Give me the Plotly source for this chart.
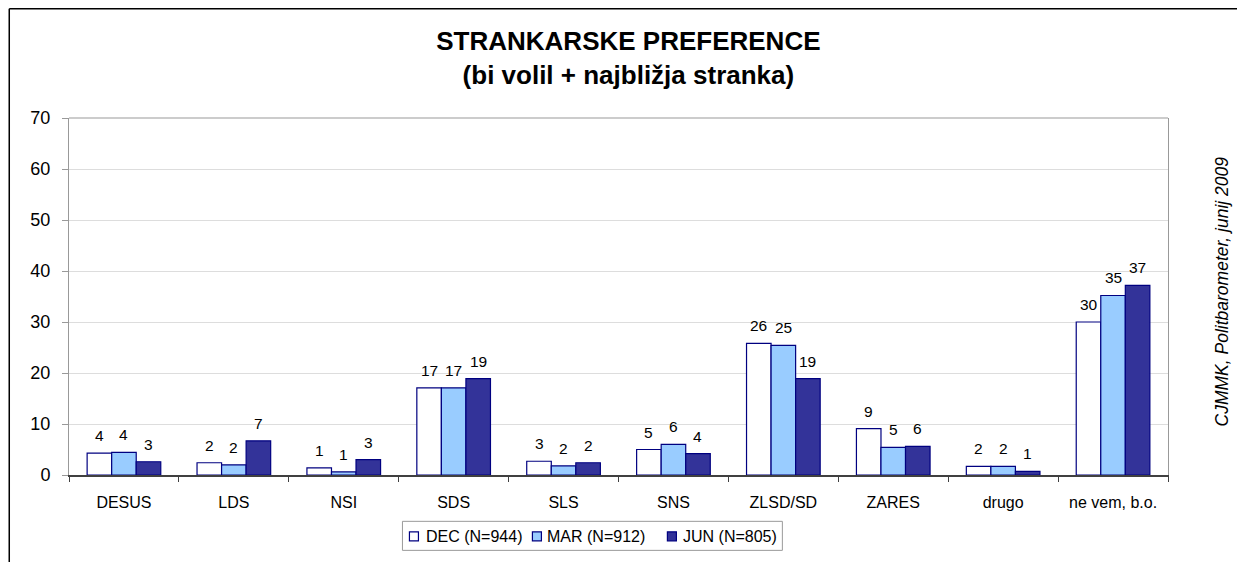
import plotly.graph_objects as go

categories = ["DESUS", "LDS", "NSI", "SDS", "SLS", "SNS", "ZLSD/SD", "ZARES", "drugo", "ne vem, b.o."]
series_names = ["DEC (N=944)", "MAR (N=912)", "JUN (N=805)"]
dec_values = [4.3, 2.4, 1.4, 17.1, 2.7, 5.0, 25.8, 9.1, 1.7, 30.0]
mar_values = [4.45, 2.0, 0.6, 17.1, 1.8, 6.0, 25.4, 5.4, 1.7, 35.2]
jun_values = [2.6, 6.7, 3.0, 18.9, 2.4, 4.2, 18.9, 5.6, 0.7, 37.2]
y_ticks = [0, 10, 20, 30, 40, 50, 60, 70]

fills = ["#FFFFFF", "#99CCFF", "#333399"]
BORDER = "#000080"
FONT = "Liberation Sans, Arial, sans-serif"

# page body has an 8px margin; figure sized to fit the window
OFF = 8
W, H = 1237, 554
L, R, T, B = 60.5, 77.3, 110, 87.3
PW, PH = W - L - R, H - T - B
BARGAP = 0.33
bar_px = PW / len(categories) * (1 - BARGAP) / 3


def px_x(sx):
    """screen x -> paper x"""
    return (sx - OFF - L) / PW


def px_y(sy):
    """screen y -> paper y"""
    return (H - B - (sy - OFF)) / PH


fig = go.Figure()
all_series = [dec_values, mar_values, jun_values]
for name, vals, col in zip(series_names, all_series, fills):
    fig.add_trace(go.Bar(
        x=categories, y=vals, name=name,
        marker=dict(color=col, line=dict(color=BORDER, width=1.2)),
        cliponaxis=False, showlegend=False,
    ))

# value labels above bars
for i, vals in enumerate(all_series):
    for c, v in zip(categories, vals):
        fig.add_annotation(
            x=c, y=v, xref="x", yref="y", text=str(int(v + 0.5)),
            showarrow=False, xanchor="center", yanchor="bottom",
            xshift=(i - 1) * bar_px, yshift=7,
            font=dict(family=FONT, size=15.5, color="black"),
        )

fig.update_layout(
    width=W, height=H,
    margin=dict(l=L, r=R, t=T, b=B, autoexpand=False),
    paper_bgcolor="white", plot_bgcolor="white",
    barmode="group", bargap=BARGAP, bargroupgap=0,
    font=dict(family=FONT, color="black"),
    title=dict(
        text="<b>STRANKARSKE PREFERENCE<br>(bi volil + najbližja stranka)</b>",
        x=px_x(628), xref="paper", xanchor="center",
        y=1 - 42 / H, yref="container", yanchor="middle",
        font=dict(family=FONT, size=26, color="black"),
    ),
    showlegend=False,
)

fig.update_yaxes(
    range=[0, 70], tickvals=y_ticks, ticktext=[str(v) for v in y_ticks],
    showgrid=True, gridcolor="#DDDDDD", gridwidth=1,
    showline=True, linecolor="#999999", linewidth=1, mirror=True,
    ticks="outside", ticklen=6, tickcolor="#999999",
    tickfont=dict(family=FONT, size=18, color="black"),
    ticklabelstandoff=8, zeroline=False, automargin=False,
)
fig.update_xaxes(
    showline=True, linecolor="#404040", linewidth=1.5,
    ticks="outside", tickson="boundaries", ticklen=5, tickcolor="#404040",
    tickfont=dict(family=FONT, size=16, color="black"),
    ticklabelstandoff=12, automargin=False,
)

# plot area top border
fig.add_shape(type="line", xref="paper", yref="paper", x0=0, x1=1, y0=1, y1=1,
              line=dict(color="#999999", width=1))
# outer chart border (left and top visible)
bx = (0.75 - L) / PW
by = (H - B - 0.75) / PH
fig.add_shape(type="line", xref="paper", yref="paper", x0=bx, x1=bx, y0=by, y1=-0.5,
              line=dict(color="black", width=1.5))
fig.add_shape(type="line", xref="paper", yref="paper", x0=bx, x1=1.5, y0=by, y1=by,
              line=dict(color="black", width=1.5))

# legend box (drawn to match the original's compact legend)
fig.add_shape(type="rect", xref="paper", yref="paper",
              x0=px_x(402), x1=px_x(782), y0=px_y(521), y1=px_y(550),
              line=dict(color="#999999", width=1), fillcolor="white")
legend_square_x = [409, 532, 667]
legend_text_x = [424, 545, 681]
for sx, tx, name, col in zip(legend_square_x, legend_text_x, series_names, fills):
    fig.add_shape(type="rect", xref="paper", yref="paper",
                  x0=px_x(sx), x1=px_x(sx + 9), y0=px_y(531.5), y1=px_y(540.5),
                  line=dict(color=BORDER, width=1.2), fillcolor=col)
    fig.add_annotation(
        text=name, xref="paper", yref="paper", x=px_x(tx), y=px_y(536),
        xanchor="left", yanchor="middle", showarrow=False,
        font=dict(family=FONT, size=16, color="black"),
    )

fig.add_annotation(
    text="<i>CJMMK, Politbarometer, junij 2009</i>",
    xref="paper", yref="paper", x=px_x(1222), y=px_y(291),
    xanchor="center", yanchor="middle", textangle=-90, showarrow=False,
    font=dict(family=FONT, size=17.5, color="black"),
)

fig.write_html("out.html")
